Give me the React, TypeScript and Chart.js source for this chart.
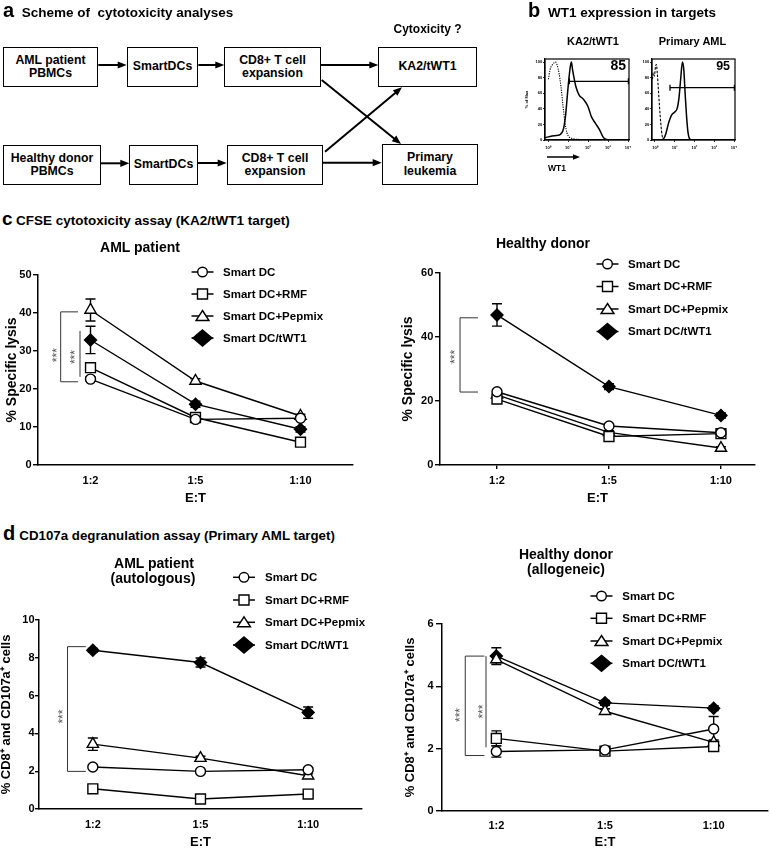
import React, { useEffect, useRef } from "react";
import { Chart, registerables } from "chart.js";

Chart.register(...registerables);

const FONT = "'Liberation Sans', Arial, Helvetica, sans-serif";

// ---------------- data ----------------
const RATIOS = ["1:2", "1:5", "1:10"];
const GROUPS = ["Smart DC", "Smart DC+RMF", "Smart DC+Pepmix", "Smart DC/tWT1"];

// c: CFSE cytotoxicity, AML patient (% specific lysis)
const C_PAT_SMARTDC = [22.6, 12.0, 12.3];
const C_PAT_RMF = [25.6, 12.5, 6.0];
const C_PAT_PEPMIX = [40.8, 22.1, 12.9];
const C_PAT_TWT1 = [32.9, 16.0, 9.4];
const C_PAT_SEM_SMARTDC = [0.6, 0.4, 0.4];
const C_PAT_SEM_RMF = [0.8, 0.5, 0.4];
const C_PAT_SEM_PEPMIX = [2.9, 0.6, 0.5];
const C_PAT_SEM_TWT1 = [3.6, 0.8, 0.7];

// c: CFSE cytotoxicity, healthy donor
const C_DON_SMARTDC = [22.9, 12.2, 10.1];
const C_DON_RMF = [20.6, 8.9, 9.8];
const C_DON_PEPMIX = [21.9, 10.2, 5.3];
const C_DON_TWT1 = [46.9, 24.5, 15.5];
const C_DON_SEM_SMARTDC = [0.6, 0.5, 0.4];
const C_DON_SEM_RMF = [0.6, 0.5, 0.4];
const C_DON_SEM_PEPMIX = [0.6, 0.5, 0.4];
const C_DON_SEM_TWT1 = [3.5, 0.9, 0.8];

// d: CD107a degranulation, AML patient (autologous)
const D_PAT_SMARTDC = [2.22, 1.99, 2.08];
const D_PAT_RMF = [1.07, 0.53, 0.79];
const D_PAT_PEPMIX = [3.43, 2.69, 1.76];
const D_PAT_TWT1 = [8.4, 7.75, 5.1];
const D_PAT_SEM_SMARTDC = [0.08, 0.05, 0.08];
const D_PAT_SEM_RMF = [0.05, 0.05, 0.05];
const D_PAT_SEM_PEPMIX = [0.33, 0.1, 0.1];
const D_PAT_SEM_TWT1 = [0.1, 0.24, 0.3];

// d: CD107a degranulation, healthy donor (allogeneic)
const D_DON_SMARTDC = [1.91, 1.96, 2.63];
const D_DON_RMF = [2.33, 1.92, 2.07];
const D_DON_PEPMIX = [4.86, 3.2, 2.2];
const D_DON_TWT1 = [4.97, 3.47, 3.3];
const D_DON_SEM_SMARTDC = [0.18, 0.05, 0.4];
const D_DON_SEM_RMF = [0.24, 0.05, 0.08];
const D_DON_SEM_PEPMIX = [0.1, 0.08, 0.08];
const D_DON_SEM_TWT1 = [0.27, 0.08, 0.08];

// significance brackets (***): [upper value, lower value]
const C_PAT_SIG = [[40.3, 21.9], [35.3, 23.2]];
const C_DON_SIG = [[46.0, 22.8]];
const D_PAT_SIG = [[8.59, 1.99]];
const D_DON_SIG = [[4.97, 1.78], [4.97, 2.04]];
const SIG_LABEL = "***";

// b: flow histograms (x = log10 WT1 fluorescence, y = % of max)
const DECADES = ["10\u2070", "10\u00b9", "10\u00b2", "10\u00b3", "10\u2074"];
const HIST_Y_TICKS = [0, 20, 40, 60, 80, 100];
const KA2_ISO_LOG = [0.02, 0.1, 0.2, 0.3, 0.38, 0.46, 0.55, 0.65, 0.75, 0.85, 0.95, 1.05, 1.2, 1.4, 1.7, 2.0];
const KA2_ISO_PCT = [78, 90, 96, 99, 100, 96, 86, 68, 44, 22, 9, 4, 2, 1, 0.5, 0];
const KA2_WT1_LOG = [-0.15, 0.2, 0.5, 0.65, 0.78, 0.88, 0.97, 1.05, 1.12, 1.17, 1.23, 1.3, 1.4, 1.55, 1.78, 2.0, 2.17, 2.38, 2.58, 2.75, 2.88, 3.05];
const KA2_WT1_PCT = [3, 5, 6, 8, 15, 32, 58, 80, 95, 100, 90, 80, 68, 58, 52, 43, 30, 21, 13, 4, 1, 0];
const AML_ISO_LOG = [-0.13, -0.08, -0.03, 0.03, 0.07, 0.12, 0.18, 0.25, 0.33, 0.4, 0.5];
const AML_ISO_PCT = [78, 86, 82, 95, 97, 85, 62, 36, 12, 2, 0];
const AML_WT1_LOG = [0.34, 0.45, 0.55, 0.68, 0.84, 1.0, 1.13, 1.22, 1.3, 1.39, 1.46, 1.53, 1.6, 1.67, 1.74, 1.85];
const AML_WT1_PCT = [0, 2, 8, 21, 32, 36, 41, 55, 78, 100, 90, 58, 30, 10, 2, 0];
const KA2_GATE = [1.07, 4.02, 75.4];
const AML_GATE = [0.76, 4.02, 67.2];
const KA2_POSITIVE = "85";
const AML_POSITIVE = "95";

// ---------------- styles ----------------
const MARKERS = [
  { style: "circle", r: 5, fill: "#fff" },
  { style: "rect", r: 7, fill: "#fff" },
  { style: "triangle", r: 6.5, fill: "#fff" },
  { style: "rectRot", r: 6, fill: "#000" },
];

function legendMarker(ctx: CanvasRenderingContext2D, i: number, x: number, y: number) {
  ctx.beginPath();
  if (i === 0) ctx.arc(x, y, 4.8, 0, Math.PI * 2);
  else if (i === 1) ctx.rect(x - 5, y - 5, 10, 10);
  else if (i === 2) {
    ctx.moveTo(x, y - 5.5);
    ctx.lineTo(x + 6.5, y + 4.5);
    ctx.lineTo(x - 6.5, y + 4.5);
    ctx.closePath();
  } else {
    ctx.moveTo(x, y - 8);
    ctx.lineTo(x + 9.5, y);
    ctx.lineTo(x, y + 8);
    ctx.lineTo(x - 9.5, y);
    ctx.closePath();
  }
  ctx.fillStyle = i === 3 ? "#000" : "#fff";
  ctx.fill();
  ctx.lineWidth = 1.4;
  ctx.strokeStyle = "#000";
  ctx.stroke();
}

function gpPlugin(o: any) {
  return {
    id: "gpExtras",
    beforeDatasetsDraw(chart: any) {
      const { ctx } = chart;
      const xs = chart.scales.x;
      const ys = chart.scales.y;
      ctx.save();
      ctx.strokeStyle = "#000";
      ctx.lineWidth = 1.4;
      o.values.forEach((vals: number[], si: number) =>
        vals.forEach((v, i) => {
          const e = o.errors[si][i];
          if (!e) return;
          const px = xs.getPixelForValue(i);
          const y1 = ys.getPixelForValue(v + e);
          const y2 = ys.getPixelForValue(v - e);
          ctx.beginPath();
          ctx.moveTo(px, y1);
          ctx.lineTo(px, y2);
          ctx.moveTo(px - 5, y1);
          ctx.lineTo(px + 5, y1);
          ctx.moveTo(px - 5, y2);
          ctx.lineTo(px + 5, y2);
          ctx.stroke();
        })
      );
      ctx.restore();
    },
    afterDatasetsDraw(chart: any) {
      const { ctx } = chart;
      const xs = chart.scales.x;
      const ys = chart.scales.y;
      ctx.save();
      // significance brackets
      ctx.strokeStyle = "#333";
      ctx.lineWidth = 1;
      o.sig.forEach((s: number[], k: number) => {
        const b = o.brackets[k];
        const x = xs.getPixelForValue(b.x);
        const yT = ys.getPixelForValue(s[0]);
        const yB = ys.getPixelForValue(s[1]);
        ctx.beginPath();
        ctx.moveTo(x, yT);
        ctx.lineTo(x, yB);
        if (b.tick !== null) {
          const xt = xs.getPixelForValue(b.tick);
          ctx.moveTo(x, yT);
          ctx.lineTo(xt, yT);
          ctx.moveTo(x, yB);
          ctx.lineTo(xt, yB);
        }
        ctx.stroke();
        const sx = xs.getPixelForValue(b.sx);
        const sy = ys.getPixelForValue(b.sy);
        ctx.save();
        ctx.translate(sx, sy);
        ctx.rotate(-Math.PI / 2);
        ctx.fillStyle = "#555";
        ctx.font = `12px ${FONT}`;
        ctx.textAlign = "center";
        ctx.textBaseline = "middle";
        ctx.fillText(SIG_LABEL, 0, 2);
        ctx.restore();
      });
      // legend
      ctx.font = `bold 11.5px ${FONT}`;
      ctx.textBaseline = "middle";
      ctx.textAlign = "left";
      GROUPS.forEach((name, i) => {
        const y = o.legend.rows[i] - o.top;
        const x = o.legend.mx - o.left;
        ctx.strokeStyle = "#000";
        ctx.lineWidth = 1.5;
        ctx.beginPath();
        ctx.moveTo(x - 11, y);
        ctx.lineTo(x + 11, y);
        ctx.stroke();
        legendMarker(ctx, i, x, y);
        ctx.fillStyle = "#000";
        ctx.fillText(name, o.legend.tx - o.left, y + 0.5);
      });
      ctx.restore();
    },
  };
}

function lineConfig(o: any): any {
  return {
    type: "line",
    data: {
      datasets: GROUPS.map((name, si) => ({
        label: name,
        data: o.values[si].map((v: number, i: number) => ({ x: i, y: v })),
        borderColor: "#000",
        borderWidth: 1.4,
        pointStyle: MARKERS[si].style,
        pointRadius: MARKERS[si].r,
        pointBackgroundColor: MARKERS[si].fill,
        pointBorderColor: "#000",
        pointBorderWidth: 1.4,
        tension: 0,
        fill: false,
        clip: false,
      })),
    },
    options: {
      responsive: false,
      maintainAspectRatio: false,
      animation: false,
      events: [],
      layout: { autoPadding: false, padding: { left: 0, right: o.padR, top: o.padT, bottom: 0 } },
      plugins: { legend: { display: false }, tooltip: { enabled: false }, title: { display: false } },
      scales: {
        x: {
          type: "linear",
          min: o.xMin,
          max: o.xMax,
          afterBuildTicks: (s: any) => {
            s.ticks = RATIOS.map((_, i) => ({ value: i }));
          },
          afterFit: (s: any) => {
            s.height = o.xH;
            s.paddingLeft = 0;
            s.paddingRight = 0;
          },
          grid: {
            display: !!o.xTickMarks,
            drawOnChartArea: false,
            drawTicks: !!o.xTickMarks,
            tickLength: 4,
            color: "#000",
            lineWidth: 1.4,
          },
          border: { display: true, color: "#000", width: 1.5 },
          ticks: {
            callback: (v: any) => RATIOS[v] ?? "",
            color: "#000",
            font: { family: FONT, size: 11, weight: "bold" },
            padding: o.xTickPad,
            maxRotation: 0,
            autoSkip: false,
          },
          title: {
            display: true,
            text: "E:T",
            color: "#000",
            font: { family: FONT, size: 13, weight: "bold", lineHeight: 1 },
            padding: { top: 0, bottom: o.xTitlePad },
          },
        },
        y: {
          type: "linear",
          min: 0,
          max: o.yMax,
          afterFit: (s: any) => {
            s.width = o.yW;
            s.paddingTop = 0;
            s.paddingBottom = 0;
          },
          grid: {
            display: true,
            drawOnChartArea: false,
            drawTicks: true,
            tickLength: o.yTickLen,
            color: "#000",
            lineWidth: 1.4,
          },
          border: { display: true, color: "#000", width: 1.5 },
          ticks: {
            stepSize: o.yStep,
            color: "#000",
            font: { family: FONT, size: 11, weight: "bold" },
            padding: o.yTickPad,
          },
          title: {
            display: true,
            text: o.yTitle,
            color: "#000",
            font: { family: FONT, size: o.yTitleSize, weight: "bold", lineHeight: 1 },
            padding: { top: o.yTitlePad, bottom: 0 },
          },
        },
      },
    },
    plugins: [gpPlugin(o)],
  };
}

function histPlugin(o: any) {
  return {
    id: "histExtras",
    afterDatasetsDraw(chart: any) {
      const { ctx, chartArea: a } = chart;
      const xs = chart.scales.x;
      const ys = chart.scales.y;
      ctx.save();
      ctx.strokeStyle = "#000";
      ctx.lineWidth = 1.2;
      ctx.strokeRect(a.left, a.top, a.right - a.left, a.bottom - a.top);
      const [g0, g1, gy] = o.gate;
      const x0 = xs.getPixelForValue(g0);
      const x1 = xs.getPixelForValue(g1);
      const y = ys.getPixelForValue(gy);
      ctx.lineWidth = 1.3;
      ctx.beginPath();
      ctx.moveTo(x0, y);
      ctx.lineTo(x1, y);
      ctx.moveTo(x0, y - 3);
      ctx.lineTo(x0, y + 3);
      ctx.moveTo(x1, y - 3);
      ctx.lineTo(x1, y + 3);
      ctx.stroke();
      ctx.fillStyle = "#000";
      ctx.font = `bold ${o.pctSize}px ${FONT}`;
      ctx.textAlign = "right";
      ctx.textBaseline = "middle";
      ctx.fillText(o.pct, xs.getPixelForValue(o.pctAt[0]), ys.getPixelForValue(o.pctAt[1]));
      ctx.restore();
    },
  };
}

function histConfig(o: any): any {
  const curves = [
    { x: o.isoX, y: o.isoY, w: 1.1, dash: o.isoDash },
    { x: o.posX, y: o.posY, w: 1.5, dash: [] },
  ];
  return {
    type: "line",
    data: {
      datasets: curves.map((c) => ({
        data: c.x.map((x: number, i: number) => ({ x, y: c.y[i] })),
        borderColor: "#000",
        borderWidth: c.w,
        borderDash: c.dash,
        pointRadius: 0,
        cubicInterpolationMode: "monotone",
        fill: false,
      })),
    },
    options: {
      responsive: false,
      maintainAspectRatio: false,
      animation: false,
      events: [],
      layout: { autoPadding: false, padding: { left: 0, right: o.padR, top: o.padT, bottom: 0 } },
      plugins: { legend: { display: false }, tooltip: { enabled: false } },
      scales: {
        x: {
          type: "linear",
          min: -0.15,
          max: 4.05,
          afterBuildTicks: (s: any) => {
            s.ticks = DECADES.map((_, i) => ({ value: i }));
          },
          afterFit: (s: any) => {
            s.height = o.xH;
            s.paddingLeft = 0;
            s.paddingRight = 0;
          },
          grid: { display: true, drawOnChartArea: false, drawTicks: true, tickLength: 2, color: "#000", lineWidth: 0.8 },
          border: { display: true, color: "#000", width: 1.2 },
          ticks: {
            callback: (v: any) => DECADES[v] ?? "",
            color: "#000",
            font: { family: FONT, size: 4, weight: "bold" },
            padding: 3.9,
            maxRotation: 0,
            autoSkip: false,
          },
        },
        y: {
          type: "linear",
          min: 0,
          max: 104,
          afterBuildTicks: (s: any) => {
            s.ticks = HIST_Y_TICKS.map((v) => ({ value: v }));
          },
          afterFit: (s: any) => {
            s.width = o.yW;
            s.paddingTop = 0;
            s.paddingBottom = 0;
          },
          grid: { display: true, drawOnChartArea: false, drawTicks: true, tickLength: 2, color: "#000", lineWidth: 0.8 },
          border: { display: true, color: "#000", width: 1.2 },
          ticks: { color: "#000", font: { family: FONT, size: 4, weight: "bold" }, padding: 0.8 },
          title: {
            display: !!o.yTitle,
            text: o.yTitle || "",
            color: "#000",
            font: { family: FONT, size: 4, weight: "bold", lineHeight: 1 },
            padding: { top: 4.8, bottom: 0 },
          },
        },
      },
    },
    plugins: [histPlugin(o)],
  };
}

// ---------------- components ----------------
function ChartCanvas({ left, top, width, height, make }: any) {
  const ref = useRef<HTMLCanvasElement | null>(null);
  useEffect(() => {
    if (!ref.current) return;
    const chart = new Chart(ref.current, make());
    return () => chart.destroy();
  }, []);
  return (
    <canvas
      ref={ref}
      width={width}
      height={height}
      style={{ position: "absolute", left, top, width, height }}
    />
  );
}

function Txt({ x, y, size, text, align = "left", weight = 700, color = "#000" }: any) {
  const style: any = {
    position: "absolute",
    top: y - 0.8465 * size,
    fontSize: size,
    lineHeight: `${size}px`,
    fontWeight: weight,
    color,
    whiteSpace: "pre",
    fontFamily: FONT,
  };
  if (align === "center") {
    style.left = x - 300;
    style.width = 600;
    style.textAlign = "center";
  } else style.left = x;
  return <div style={style}>{text}</div>;
}

function Box({ x, y, w, h, lines }: any) {
  return (
    <div
      style={{
        position: "absolute",
        left: x,
        top: y,
        width: w,
        height: h,
        boxSizing: "border-box",
        border: "1.5px solid #000",
        display: "flex",
        flexDirection: "column",
        alignItems: "center",
        justifyContent: "center",
        fontSize: 12.3,
        fontWeight: 700,
        lineHeight: "13.4px",
        textAlign: "center",
        fontFamily: FONT,
        background: "#fff",
      }}
    >
      {lines.map((l: string, i: number) => (
        <div key={i}>{l}</div>
      ))}
    </div>
  );
}

function Arrow({ x1, y1, x2, y2, w = 2, hl = 9, hw = 3.6 }: any) {
  const dx = x2 - x1;
  const dy = y2 - y1;
  const L = Math.hypot(dx, dy);
  const ux = dx / L;
  const uy = dy / L;
  const bx = x2 - ux * hl;
  const by = y2 - uy * hl;
  return (
    <g>
      <line x1={x1} y1={y1} x2={bx + ux} y2={by + uy} stroke="#000" strokeWidth={w} />
      <polygon
        points={`${x2},${y2} ${bx - uy * hw},${by + ux * hw} ${bx + uy * hw},${by - ux * hw}`}
        fill="#000"
      />
    </g>
  );
}

const Y_TITLE_D = "% CD8\u207a and CD107a\u207a cells";

export default function App() {
  const cPat = {
    left: 0, top: 255, width: 385, height: 250,
    values: [C_PAT_SMARTDC, C_PAT_RMF, C_PAT_PEPMIX, C_PAT_TWT1],
    errors: [C_PAT_SEM_SMARTDC, C_PAT_SEM_RMF, C_PAT_SEM_PEPMIX, C_PAT_SEM_TWT1],
    sig: C_PAT_SIG,
    brackets: [
      { x: -0.284, tick: -0.119, sx: -0.33, sy: 28.9 },
      { x: -0.1, tick: null, sx: -0.162, sy: 28.4 },
    ],
    legend: { mx: 202.5, tx: 223, rows: [272, 294, 316, 338] },
    xMin: -0.5, xMax: 2.5, yMax: 50, yStep: 10,
    padT: 20, padR: 32, yW: 38, xH: 40, xTickPad: 9.4, xTitlePad: 0.5,
    yTickLen: 5, yTickPad: 1.5, yTitle: "% Specific lysis", yTitleSize: 14, yTitlePad: 5,
  };
  const cDon = {
    left: 385, top: 250, width: 385, height: 255,
    values: [C_DON_SMARTDC, C_DON_RMF, C_DON_PEPMIX, C_DON_TWT1],
    errors: [C_DON_SEM_SMARTDC, C_DON_SEM_RMF, C_DON_SEM_PEPMIX, C_DON_SEM_TWT1],
    sig: C_DON_SIG,
    brackets: [{ x: -0.33, tick: -0.17, sx: -0.384, sy: 33.8 }],
    legend: { mx: 607.5, tx: 628, rows: [264, 286.5, 309, 331.5] },
    xMin: -0.509, xMax: 2.304, yMax: 60, yStep: 20, xTickMarks: true,
    padT: 23, padR: 15, yW: 55, xH: 40, xTickPad: 5.1, xTitlePad: 0.2,
    yTickLen: 5, yTickPad: 1.7, yTitle: "% Specific lysis", yTitleSize: 14, yTitlePad: 16,
  };
  const dPat = {
    left: 0, top: 565, width: 385, height: 284,
    values: [D_PAT_SMARTDC, D_PAT_RMF, D_PAT_PEPMIX, D_PAT_TWT1],
    errors: [D_PAT_SEM_SMARTDC, D_PAT_SEM_RMF, D_PAT_SEM_PEPMIX, D_PAT_SEM_TWT1],
    sig: D_PAT_SIG,
    brackets: [{ x: -0.235, tick: -0.065, sx: -0.29, sy: 4.89 }],
    legend: { mx: 244, tx: 265, rows: [577.3, 600, 622.3, 645] },
    xMin: -0.5, xMax: 2.5, yMax: 10, yStep: 2,
    padT: 55, padR: 23, yW: 39, xH: 40, xTickPad: 9.4, xTitlePad: 0,
    yTickLen: 4, yTickPad: 0.5, yTitle: Y_TITLE_D, yTitleSize: 13, yTitlePad: 0,
  };
  const dDon = {
    left: 385, top: 565, width: 385, height: 284,
    values: [D_DON_SMARTDC, D_DON_RMF, D_DON_PEPMIX, D_DON_TWT1],
    errors: [D_DON_SEM_SMARTDC, D_DON_SEM_RMF, D_DON_SEM_PEPMIX, D_DON_SEM_TWT1],
    sig: D_DON_SIG,
    brackets: [
      { x: -0.286, tick: -0.11, sx: -0.343, sy: 3.08 },
      { x: -0.095, tick: null, sx: -0.133, sy: 3.19 },
    ],
    legend: { mx: 601.5, tx: 622.3, rows: [596, 618.3, 641, 663.3] },
    xMin: -0.5, xMax: 2.5, yMax: 6, yStep: 2,
    padT: 59, padR: 2, yW: 57, xH: 38, xTickPad: 8.1, xTitlePad: 0,
    yTickLen: 6, yTickPad: 2.5, yTitle: Y_TITLE_D, yTitleSize: 13, yTitlePad: 19.3,
  };
  const hKa2 = {
    left: 520, top: 48, width: 120, height: 107,
    isoX: KA2_ISO_LOG, isoY: KA2_ISO_PCT, isoDash: [1.2, 1.2],
    posX: KA2_WT1_LOG, posY: KA2_WT1_PCT,
    gate: KA2_GATE, pct: KA2_POSITIVE, pctAt: [3.9, 95], pctSize: 14,
    padT: 11, padR: 11, yW: 25, xH: 15, yTitle: "% of Max",
  };
  const hAml = {
    left: 640, top: 48, width: 130, height: 107,
    isoX: AML_ISO_LOG, isoY: AML_ISO_PCT, isoDash: [2.5, 1.5],
    posX: AML_WT1_LOG, posY: AML_WT1_PCT,
    gate: AML_GATE, pct: AML_POSITIVE, pctAt: [3.8, 93.7], pctSize: 12.5,
    padT: 11, padR: 35, yW: 12, xH: 15, yTitle: "",
  };

  const lineCharts = [cPat, cDon, dPat, dDon];
  const hists = [hKa2, hAml];

  return (
    <div
      style={{
        position: "absolute",
        left: 0,
        top: 0,
        width: 770,
        height: 849,
        overflow: "hidden",
        background: "#fff",
        fontFamily: FONT,
      }}
    >
      {lineCharts.map((c, i) => (
        <ChartCanvas key={"l" + i} left={c.left} top={c.top} width={c.width} height={c.height} make={() => lineConfig(c)} />
      ))}
      {hists.map((h, i) => (
        <ChartCanvas key={"h" + i} left={h.left} top={h.top} width={h.width} height={h.height} make={() => histConfig(h)} />
      ))}

      {/* panel a: scheme */}
      <svg style={{ position: "absolute", left: 0, top: 0 }} width={770} height={200}>
        <Arrow x1={98.3} y1={65} x2={126.7} y2={65} />
        <Arrow x1={198.3} y1={65} x2={224.3} y2={65} />
        <Arrow x1={321} y1={65} x2={378.3} y2={65} />
        <Arrow x1={101} y1={163.3} x2={129.3} y2={163.3} />
        <Arrow x1={197.7} y1={163} x2={226.7} y2={163} />
        <Arrow x1={322.7} y1={162.7} x2={381.7} y2={162.7} />
        <Arrow x1={321.7} y1={80} x2={401} y2={144} />
        <Arrow x1={325} y1={151.7} x2={402} y2={87.3} />
        <Arrow x1={547} y1={157} x2={580} y2={157} w={1.5} hl={7} hw={2.8} />
      </svg>
      <Box x={3} y={47} w={95} h={40} lines={["AML patient", "PBMCs"]} />
      <Box x={127} y={47} w={71} h={40} lines={["SmartDCs"]} />
      <Box x={224} y={47} w={97} h={40} lines={["CD8+ T cell", "expansion"]} />
      <Box x={378} y={47} w={99} h={40} lines={["KA2/tWT1"]} />
      <Box x={3} y={145} w={98} h={40} lines={["Healthy donor", "PBMCs"]} />
      <Box x={129} y={145} w={69} h={40} lines={["SmartDCs"]} />
      <Box x={227} y={145} w={96} h={40} lines={["CD8+ T cell", "expansion"]} />
      <Box x={382} y={144} w={96} h={41} lines={["Primary", "leukemia"]} />

      <Txt x={3} y={17} size={20} text="a" />
      <Txt x={21.7} y={17} size={13.5} text="Scheme of  cytotoxicity analyses" />
      <Txt x={427.5} y={33.5} size={12} text="Cytoxicity ?" align="center" />

      {/* panel b */}
      <Txt x={528} y={17} size={20} text="b" />
      <Txt x={548} y={17} size={13.5} text="WT1 expression in targets" />
      <Txt x={593} y={45} size={11} text="KA2/tWT1" align="center" />
      <Txt x={692.5} y={45} size={11} text="Primary AML" align="center" />
      <Txt x={548} y={171.5} size={8.5} text="WT1" />

      {/* panel c */}
      <Txt x={2} y={225} size={19} text="c" />
      <Txt x={16} y={225} size={13.5} text="CFSE cytotoxicity assay (KA2/tWT1 target)" />
      <Txt x={140} y={252.3} size={14} text="AML patient" align="center" />
      <Txt x={543} y={248.3} size={14} text="Healthy donor" align="center" />

      {/* panel d */}
      <Txt x={3} y={540} size={20} text="d" />
      <Txt x={19.3} y={540} size={13.3} text="CD107a degranulation assay (Primary AML target)" />
      <Txt x={154} y={567.7} size={14} text="AML patient" align="center" />
      <Txt x={153} y={582.7} size={14} text="(autologous)" align="center" />
      <Txt x={566} y={559.3} size={14} text="Healthy donor" align="center" />
      <Txt x={566} y={574.3} size={14} text="(allogeneic)" align="center" />
    </div>
  );
}
